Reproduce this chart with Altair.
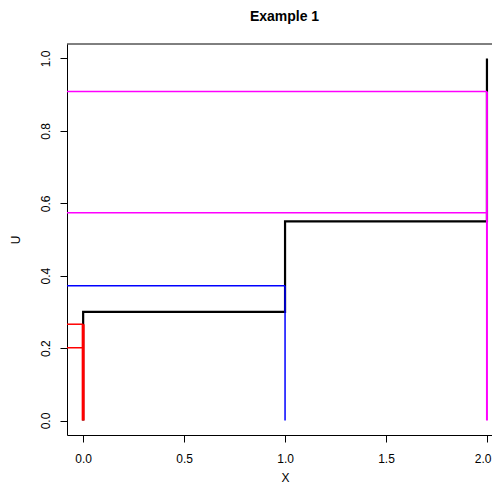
import altair as alt
import pandas as pd

# ---- data ----
step_x = [0, 0, 1, 1, 2, 2]
step_y = [0.0, 0.30, 0.30, 0.55, 0.55, 1.0]

red_levels = [0.201, 0.266]
blue_levels = [0.372]
magenta_levels = [0.574, 0.909]
red_x, blue_x, magenta_x = 0, 1, 2

x_ticks = [0, 0.5, 1, 1.5, 2]
y_ticks = [0, 0.2, 0.4, 0.6, 0.8, 1.0]
x_min, x_max = -0.08, 2.025
y_min, y_max = -0.04, 1.04

W, H = 425, 391
FONT = "Liberation Sans"

step_df = pd.DataFrame({"x": step_x, "y": step_y, "o": list(range(len(step_x)))})

xscale = alt.Scale(domain=[x_min, x_max], nice=False, zero=False)
yscale = alt.Scale(domain=[y_min, y_max], nice=False, zero=False)

last_tick = "datum.value >= 2"
xaxis = alt.Axis(values=x_ticks, format=".1f", grid=False, tickSize=7, labelPadding=11,
                 labelAlign={"condition": {"test": last_tick, "value": "right"}, "value": "center"},
                 labelOffset={"condition": {"test": last_tick, "value": 4}, "value": 0},
                 domainColor="black", tickColor="black", labelColor="black",
                 labelFont=FONT, labelFontSize=12, title="X", titleFont=FONT,
                 titleFontSize=12, titleFontWeight="normal", titleColor="black",
                 titleX=218, titleY=46, titleBaseline="alphabetic", titleAlign="center")
yaxis = alt.Axis(values=y_ticks, format=".1f", grid=False, tickSize=7, labelPadding=8,
                 labelAngle=-90, labelAlign="center", labelBaseline="bottom",
                 domainColor="black", tickColor="black", labelColor="black",
                 labelFont=FONT, labelFontSize=12, title="U", titleFont=FONT,
                 titleFontSize=12, titleFontWeight="normal", titleColor="black",
                 titleX=-48, titleY=H / 2, titleAngle=-90, titleBaseline="alphabetic",
                 titleAlign="center")

step = alt.Chart(step_df).mark_line(color="black", strokeWidth=2.2, interpolate="linear").encode(
    x=alt.X("x:Q", scale=xscale, axis=xaxis),
    y=alt.Y("y:Q", scale=yscale, axis=yaxis),
    order="o:Q",
)


def segments(levels, xend, color, vwidth):
    hdf = pd.DataFrame({"x": [x_min] * len(levels), "x2": [xend] * len(levels), "y": levels})
    vdf = pd.DataFrame({"x": [xend], "y": [0.0], "y2": [max(levels)]})
    h = alt.Chart(hdf).mark_rule(color=color, strokeWidth=1.5).encode(
        x=alt.X("x:Q", scale=xscale), x2="x2:Q", y=alt.Y("y:Q", scale=yscale))
    v = alt.Chart(vdf).mark_rule(color=color, strokeWidth=vwidth).encode(
        x=alt.X("x:Q", scale=xscale), y=alt.Y("y:Q", scale=yscale), y2="y2:Q")
    return [h, v]


layers = [step]
layers += segments(red_levels, red_x, "#FF0000", 3)
layers += segments(blue_levels, blue_x, "#0000FF", 1.5)
layers += segments(magenta_levels, magenta_x, "#FF00FF", 2)

top_border = alt.Chart(pd.DataFrame({"a": [0]})).mark_rule(color="black", strokeWidth=1).encode(
    x=alt.value(0), x2=alt.value(W), y=alt.value(0))
layers.append(top_border)

chart = alt.layer(*layers).properties(
    width=W, height=H,
    title=alt.TitleParams("Example 1", font=FONT, fontSize=14, fontWeight="bold",
                          color="black", anchor="middle", dx=5, offset=20),
    autosize=alt.AutoSizeParams(type="none"),
    padding={"left": 59, "top": 36, "right": 0, "bottom": 51},
).configure_view(stroke=None)

chart.save("out.html", embed_options={"renderer": "svg", "actions": False})
